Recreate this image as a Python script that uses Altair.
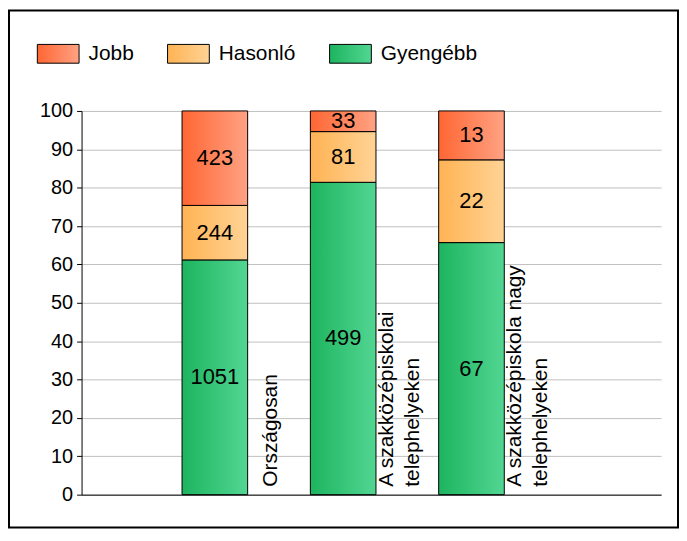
import altair as alt
import pandas as pd

categories = ["Országosan", "A szakközépiskolai telephelyeken", "A szakközépiskola nagy telephelyeken"]
cat_labels = ["Országosan", "A szakközépiskolai\ntelephelyeken", "A szakközépiskola nagy\ntelephelyeken"]
series = ["Jobb", "Hasonló", "Gyengébb"]
jobb = [423, 33, 13]
hasonlo = [244, 81, 22]
gyengebb = [1051, 499, 67]
y_ticks = [0, 10, 20, 30, 40, 50, 60, 70, 80, 90, 100]

grad_left = ["#ff6633", "#ffb354", "#1db45f"]
grad_right = ["#ffa283", "#ffd395", "#52d692"]

rows = []
for i, c in enumerate(categories):
    for rank, (s, vals) in enumerate([("Gyengébb", gyengebb), ("Hasonló", hasonlo), ("Jobb", jobb)]):
        rows.append({"cat": c, "idx": i + 1, "series": s, "count": vals[i], "rank": rank})
df = pd.DataFrame(rows)
lab_df = pd.DataFrame({"cat": categories, "idx": [1, 2, 3], "lbl": cat_labels, "zero": [0, 0, 0]})

FONT = "Liberation Sans"


def grad(c0, c1):
    return alt.ExprRef(
        expr="{gradient: 'linear', x1: 0, y1: 0, x2: 1, y2: 0, stops: ["
        f"{{offset: 0, color: '{c0}'}}, {{offset: 1, color: '{c1}'}}]}}"
    )


color_scale = alt.Scale(domain=series, range=[grad(a, b) for a, b in zip(grad_left, grad_right)])

xscale = alt.Scale(domain=[0, 4.439], nice=False, zero=False)
yscale = alt.Scale(domain=[0, 100], nice=False)
yaxis = alt.Axis(title=None, values=y_ticks, tickCount=len(y_ticks) + 5, labelOverlap=False)
xaxis = alt.Axis(title=None, labels=False, ticks=False, grid=False, domainColor="black")

base = (
    alt.Chart(df)
    .transform_joinaggregate(total="sum(count)", groupby=["cat"])
    .transform_calculate(pct="datum.count / datum.total * 100")
    .transform_stack(stack="pct", groupby=["cat"], as_=["y0", "y1"], sort=[alt.SortField("rank", order="ascending")])
    .transform_calculate(mid="(datum.y0 + datum.y1) / 2")
)

bars = base.mark_bar(size=66, stroke="black", strokeWidth=1).encode(
    x=alt.X("idx:Q", scale=xscale, axis=xaxis),
    y=alt.Y("y0:Q", scale=yscale, axis=yaxis),
    y2="y1:Q",
    color=alt.Color(
        "series:N",
        scale=color_scale,
        legend=alt.Legend(
            title=None,
            orient="none",
            legendX=-45,
            legendY=-79,
            direction="horizontal",
            symbolType="M-1,-0.45H1V0.45H-1Z",
            symbolSize=1764,
            symbolStrokeColor="black",
            symbolStrokeWidth=1,
            labelFont=FONT,
            labelFontSize=21,
            labelColor="black",
            labelOffset=9,
            columnPadding=31,
            padding=0,
        ),
    ),
)

values = base.mark_text(font=FONT, fontSize=22, color="black", baseline="middle").encode(
    x=alt.X("idx:Q", scale=xscale, axis=xaxis),
    y=alt.Y("mid:Q", scale=yscale, axis=yaxis),
    text="count:Q",
)

cat_text = (
    alt.Chart(lab_df)
    .transform_calculate(xl="datum.idx - (length(split(datum.lbl, '\\n')) - 1) * 0.099")
    .mark_text(font=FONT, fontSize=21, color="black", angle=270, align="left", baseline="middle",
               lineBreak="\n", lineHeight=26, dx=8, dy=57)
    .encode(
        x=alt.X("xl:Q", scale=xscale, axis=xaxis),
        y=alt.Y("zero:Q", scale=yscale, axis=yaxis),
        text="lbl:N",
    )
)

frame = (
    alt.Chart(alt.Data(values=[{"f": 1}]))
    .mark_rect(filled=False, stroke="black", strokeWidth=2)
    .encode(x=alt.value(-73), x2=alt.value(600), y=alt.value(-101), y2=alt.value(419))
)

chart = (
    alt.layer(bars, values, cat_text, frame)
    .properties(width=583, height=386, autosize=alt.AutoSizeParams(type="none"),
                padding={"left": 74, "top": 102, "right": 18, "bottom": 34})
    .configure_view(strokeWidth=0)
    .configure_axis(
        labelFont=FONT,
        labelFontSize=20,
        labelColor="black",
        tickColor="black",
        tickSize=5,
        domainColor="black",
        gridColor="#c0c0c0",
        labelPadding=4,
    )
)

chart.save("out.html", embed_options={"renderer": "svg", "actions": False})
